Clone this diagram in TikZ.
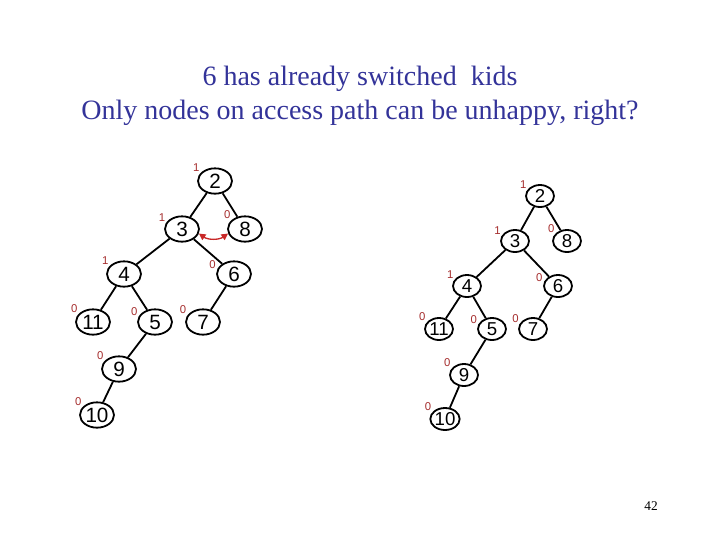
\documentclass[tikz,border=0pt]{standalone}
\usepackage{fontspec}
\setmainfont{Liberation Serif}
\newfontfamily\nodefont{Liberation Sans}
\usetikzlibrary{shapes.geometric,arrows.meta}
\definecolor{titleblue}{RGB}{51,51,153}
\definecolor{rankred}{RGB}{165,45,45}
\definecolor{swapred}{RGB}{200,40,40}
\tikzset{
	big/.style={draw, ellipse, line width=1.35pt, inner sep=0pt, minimum width=25.5pt, minimum height=19pt, font=\nodefont\fontsize{15.5}{15.5}\selectfont},
	small/.style={draw, ellipse, line width=1.35pt, inner sep=0pt, minimum width=21pt, minimum height=16.5pt, font=\nodefont\fontsize{14}{14}\selectfont},
	rank/.style={text=rankred, font=\nodefont\fontsize{8.5}{8.5}\selectfont, inner sep=0pt, label distance=1pt},
	edge/.style={line width=1.35pt}
}
\begin{document}
\begin{tikzpicture}[x=0.75pt,y=-0.75pt]
	\useasboundingbox (0,0) rectangle (720,540);
	% title
	\node[text=titleblue, font=\fontsize{21}{25.5}\selectfont, align=center] (title) at (360,96){6 has already switched\ \ kids\\Only nodes on access path can be unhappy, right?};
	\node[font=\fontsize{10}{10}\selectfont] (page) at (651,506){42};
	
	% tree before
	\node[big, label={[rank]150:1}] (l2) at (215,181){2};
	\node[big, label={[rank]155:1}] (l3) at (182,229){3};
	\node[big, label={[rank]145:0}] (l8) at (245,229){8};
	\node[big, label={[rank]150:1}] (l4) at (124,274){4};
	\node[big, label={[rank]165:0}] (l6) at (234,274){6};
	\node[big, label={[rank]150:0}] (l11) at (93,322){11};
	\node[big, label={[rank]160:0}] (l5) at (155,322){5};
	\node[big, label={[rank]155:0}] (l7) at (203,322){7};
	\node[big, label={[rank]150:0}] (l9) at (119,369){9};
	\node[big, label={[rank]150:0}] (l10) at (97,415){10};
	\draw[edge] (l2)--(l3);
	\draw[edge] (l2)--(l8);
	\draw[edge] (l3)--(l4);
	\draw[edge] (l3)--(l6);
	\draw[edge] (l4)--(l11);
	\draw[edge] (l4)--(l5);
	\draw[edge] (l6)--(l7);
	\draw[edge] (l5)--(l9);
	\draw[edge] (l9)--(l10);
	\draw[{Triangle[length=5pt,width=5pt]}-{Triangle[length=5pt,width=5pt]}, swapred, line width=1pt] (l3.-15) to[bend right=35] (l8.195);
	
	% tree after
	\node[small, label={[rank]150:1}] (r2) at (540,196){2};
	\node[small, label={[rank]155:1}] (r3) at (515,241){3};
	\node[small, label={[rank]145:0}] (r8) at (567,241){8};
	\node[small, label={[rank]150:1}] (r4) at (467,286){4};
	\node[small, label={[rank]165:0}] (r6) at (558,286){6};
	\node[small, label={[rank]150:0}] (r11) at (439,329){11};
	\node[small, label={[rank]160:0}] (r5) at (492,329){5};
	\node[small, label={[rank]155:0}] (r7) at (533,329){7};
	\node[small, label={[rank]150:0}] (r9) at (464,375){9};
	\node[small, label={[rank]150:0}] (r10) at (445,419){10};
	\draw[edge] (r2)--(r3);
	\draw[edge] (r2)--(r8);
	\draw[edge] (r3)--(r4);
	\draw[edge] (r3)--(r6);
	\draw[edge] (r4)--(r11);
	\draw[edge] (r4)--(r5);
	\draw[edge] (r6)--(r7);
	\draw[edge] (r5)--(r9);
	\draw[edge] (r9)--(r10);
\end{tikzpicture}
\end{document}
